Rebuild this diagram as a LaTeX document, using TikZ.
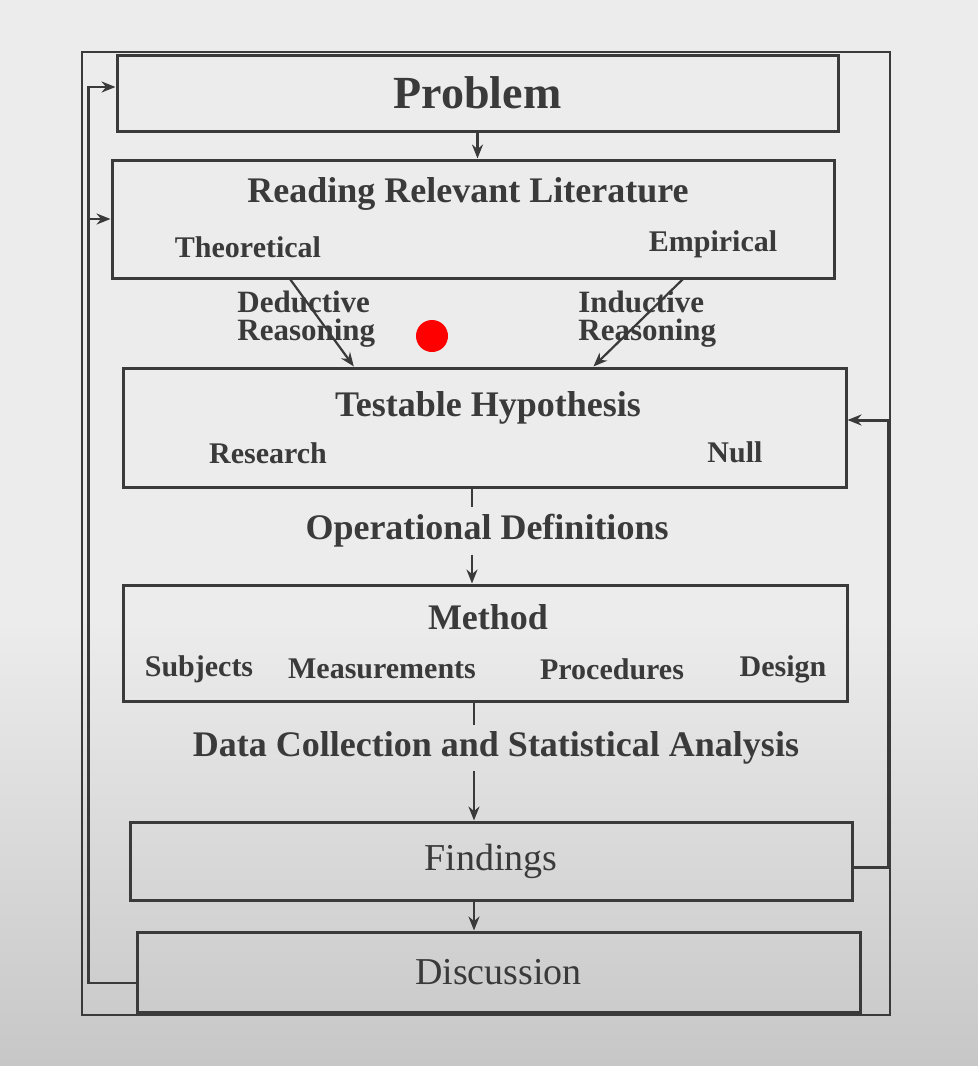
\documentclass[tikz,border=0pt]{standalone}
\usepackage{fontspec}
\setmainfont{Liberation Serif}
\usetikzlibrary{arrows.meta}
\usetikzlibrary{positioning}
\usetikzlibrary{calc}

\definecolor{ink}{HTML}{3A3A3A}
\definecolor{paper}{HTML}{ECECEC}

\tikzset{
  box/.style={draw=ink, line width=1.5pt, inner sep=0pt},
  head/.style={text=ink, font=\bfseries\fontsize{18}{20}\selectfont},
  sub/.style={text=ink, font=\bfseries\fontsize{15}{16}\selectfont},
  reason/.style={text=ink, font=\bfseries\fontsize{15.5}{14}\selectfont,
                 anchor=west, align=left, inner sep=0pt},
  plain/.style={text=ink, font=\fontsize{19}{21}\selectfont},
  arr/.style={draw=ink, line width=1.1pt, -{Stealth[length=7pt,width=5.5pt]}},
  flow/.style={draw=ink, line width=1.1pt},
}

\begin{document}
\begin{tikzpicture}[x=0.5pt,y=-0.5pt]
  \useasboundingbox (0,0) rectangle (978,1066);
  \fill[paper] (0,0) rectangle (978,1066);
  \shade[top color=paper, bottom color=gray!44] (0,620) rectangle (978,1066);

  % outer frame
  \draw[ink, line width=1pt] (82,52) rectangle (890,1015);

  % boxes
  \node[box, minimum width=360.5pt, minimum height=38pt, head,
        font=\bfseries\fontsize{23}{25}\selectfont] (prob) at (477.5,93) {Problem};

  \node[box, minimum width=361pt, minimum height=59pt] (read) at (473,219) {};
  \node[head] (readT) at (468,194) {Reading Relevant Literature};
  \node[sub] (theo) at (248,247) {Theoretical};
  \node[sub] (emp) at (713,244) {Empirical};

  \node[box, minimum width=361.5pt, minimum height=59.5pt] (hyp) at (484.5,427.5) {};
  \node[head] (hypT) at (488,408) {Testable Hypothesis};
  \node[sub] (res) at (268,453) {Research};
  \node[sub] (null) at (735,452) {Null};

  \node[box, minimum width=362pt, minimum height=58pt] (meth) at (485,643) {};
  \node[head] (methT) at (488,617) {Method};
  \node[sub] (subj) at (199,669) {Subjects};
  \node[sub] (meas) at (382,669) {Measurements};
  \node[sub] (proc) at (612,669) {Procedures};
  \node[sub] (des) at (783,669) {Design};

  \node[box, minimum width=361pt, minimum height=39pt, plain] (find) at (491,861) {Findings};
  \node[box, minimum width=361.5pt, minimum height=40pt, plain] (disc) at (498.5,972) {Discussion};

  % reasoning
  \node[reason] (ded) at (237,319) {Deductive\\Reasoning};
  \node[reason] (ind) at (578,319) {Inductive\\Reasoning};
  \draw[arr] ($(read.south west)!0.248!(read.south east)$)
          -- ($(hyp.north west)!0.320!(hyp.north east)$);
  \draw[arr] ($(read.south west)!0.789!(read.south east)$)
          -- ($(hyp.north west)!0.650!(hyp.north east)$);

  % main flow
  \draw[arr] (prob.south) -- (prob.south |- read.north);

  \coordinate (hypOut) at ($(hyp.south)+(-12.5,0)$);
  \coordinate (methIn) at ($(meth.north)+(-13,0)$);
  \coordinate (methOut) at ($(meth.south)+(-11,0)$);
  \coordinate (findIn) at ($(find.north)+(-17,0)$);

  \node[head] (opdef) at (487,531) {Operational Definitions};
  \draw[flow] (hypOut) -- (hypOut |- opdef.north);
  \draw[arr] (methIn |- opdef.south) -- (methIn);

  \node[head] (dcsa) at (496,748) {Data Collection and Statistical Analysis};
  \draw[flow] (methOut) -- (methOut |- dcsa.north);
  \draw[arr] (findIn |- dcsa.south) -- (findIn);

  \draw[arr] ($(find.south)+(-17,0)$) -- ($(disc.north)+(-24.5,0)$);

  % feedback loops
  \draw[arr, line width=1.5pt] ([yshift=-3pt]find.east) -- ++(17.5pt,0) |- ([yshift=3.75pt]hyp.east);
  \draw[arr] ([yshift=-5.5pt]disc.west) -- ++(-23.5pt,0) |- ([yshift=3pt]prob.west);
  \draw[arr] ($(read.west)+(-22,0)$) -- (read.west);

  % pointer
  \fill[red] (432,336) circle (8pt);
\end{tikzpicture}
\end{document}
